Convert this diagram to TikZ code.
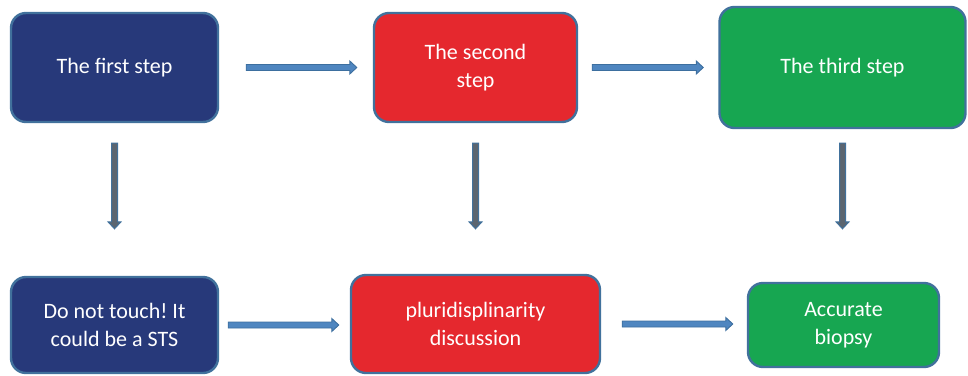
\documentclass[tikz,border=0pt]{standalone}
\usepackage{fontspec}
\setmainfont{Carlito}
\frenchspacing
\usetikzlibrary{calc}
\definecolor{navy}{HTML}{27397A}
\definecolor{redbox}{HTML}{E5282E}
\definecolor{greenbox}{HTML}{17A651}
\definecolor{edge}{HTML}{41719C}
\definecolor{harrfill}{HTML}{4F86C0}
\definecolor{harredge}{HTML}{3D6F9F}
\definecolor{varrfill}{HTML}{5B6570}
\tikzset{
  box/.style={draw=edge, line width=2.4pt, rounded corners=15pt, inner sep=0pt,
    text=white, align=center, font=\fontsize{22}{28}\selectfont},
  harrow/.style={fill=harrfill, draw=harredge, line width=0.9pt, line join=miter},
  varrow/.style={fill=varrfill, draw=edge, line width=1pt, line join=miter}
}
\newcommand\hconn[4]{%
  \filldraw[harrow] let \p1=($(#1.east)+(#3,0)$), \p2=($(#2.west)-(#4,0)$) in
    (\x1,\y1+3pt) -- (\x2-7pt,\y1+3pt) -- (\x2-7pt,\y1+6.5pt) -- (\x2,\y1)
    -- (\x2-7pt,\y1-6.5pt) -- (\x2-7pt,\y1-3pt) -- (\x1,\y1-3pt) -- cycle;}
\newcommand\vconn[4]{%
  \filldraw[varrow] let \p1=($(#1.south)+(0,#3)$), \p2=($(#2.north)-(0,#4)$) in
    (\x1-3pt,\y1) -- (\x1-3pt,\y2+7pt) -- (\x1-6.5pt,\y2+7pt) -- (\x1,\y2)
    -- (\x1+6.5pt,\y2+7pt) -- (\x1+3pt,\y2+7pt) -- (\x1+3pt,\y1) -- cycle;}
\begin{document}
\begin{tikzpicture}[x=1pt,y=-1pt]
\useasboundingbox (0,0) rectangle (968,375);
\node[box, fill=navy, minimum width=207pt, minimum height=109pt] (s1) at (114.5,67.5) {The first step};
\node[box, fill=redbox, minimum width=203pt, minimum height=109pt] (s2) at (475.5,67.5) {The second\\step};
\node[box, fill=greenbox, minimum width=246pt, minimum height=121pt] (s3) at (842.5,67.5) {The third step};
\node[box, fill=navy, minimum width=207pt, minimum height=96pt] (b1) at (114.5,325) {Do not touch! It\\could be a STS};
\node[box, fill=redbox, minimum width=249pt, minimum height=98pt] (b2) at (475.5,324) {pluridisplinarity\\discussion};
\node[box, fill=greenbox, minimum width=191pt, minimum height=84pt] (b3) at (843.5,325) {Accurate\\biopsy};
\hconn{s1}{s2}{27}{16}
\hconn{s2}{s3}{14}{15}
\hconn{b1}{b2}{9}{11}
\hconn{b2}{b3}{21}{14}
\vconn{s1}{b1}{20}{47}
\vconn{s2}{b2}{20}{45}
\vconn{s3}{b3}{14}{53}
\end{tikzpicture}
\end{document}
